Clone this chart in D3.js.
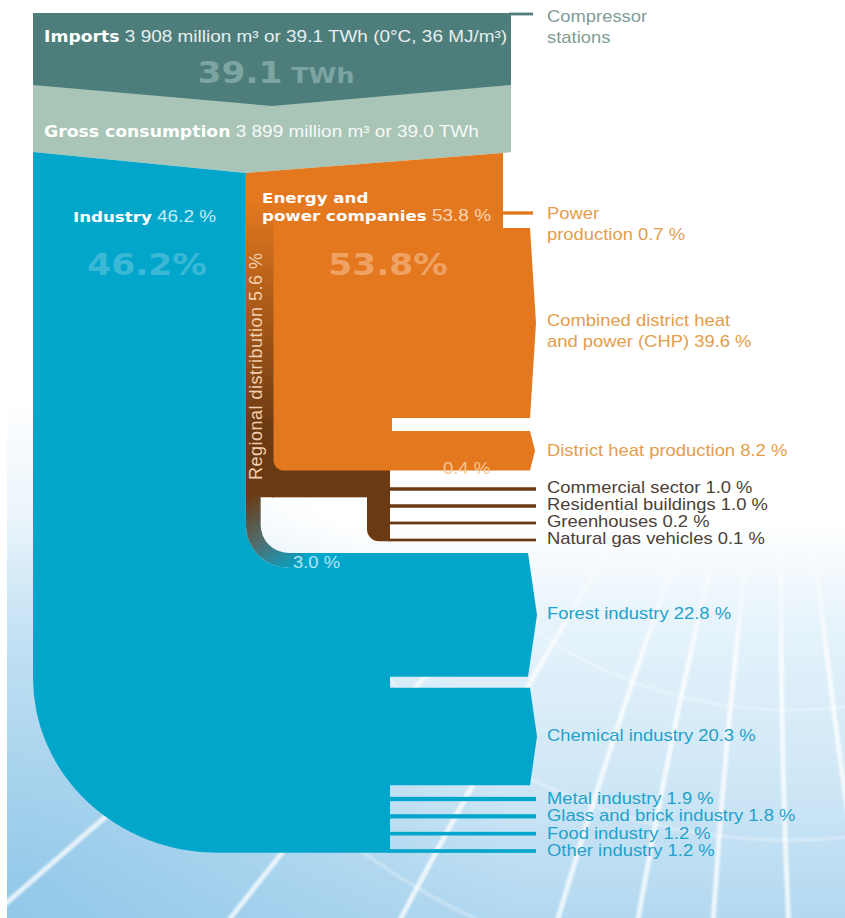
<!DOCTYPE html>
<html><head><meta charset="utf-8">
<script src="https://cdn.jsdelivr.net/npm/d3@7"></script>
<style>body{margin:0;background:#fff}svg{display:block}text{white-space:pre}</style>
</head><body>
<svg id="c" width="845" height="918"></svg>
<script>
// ---------------- DATA ----------------
const importsLabel = ["Imports", " 3 908 million m³ or 39.1 TWh (0°C, 36 MJ/m³)"];
const importsTWh = 39.1;
const grossLabel = ["Gross consumption", " 3 899 million m³ or 39.0 TWh"];
const grossTWh = 39.0;
const compressorLabel = ["Compressor", "stations"];
const mainCategories = ["Industry", "Energy and power companies"];
const mainShares = [46.2, 53.8];
const regionalLabel = "Regional distribution";
const regionalShare = 5.6;
const regionalToIndustry = 3.0;
const regionalOther = 0.4;
const energyOutputs = ["Power production", "Combined district heat and power (CHP)", "District heat production"];
const energyLabelLines = [["Power", "production"], ["Combined district heat", "and power (CHP)"], ["District heat production"]];
const energyValues = [0.7, 39.6, 8.2];
const regionalOutputs = ["Commercial sector", "Residential buildings", "Greenhouses", "Natural gas vehicles"];
const regionalValues = [1.0, 1.0, 0.2, 0.1];
const industryOutputs = ["Forest industry", "Chemical industry", "Metal industry", "Glass and brick industry", "Food industry", "Other industry"];
const industryValues = [22.8, 20.3, 1.9, 1.8, 1.2, 1.2];

// ---------------- SETUP ----------------
const C = {
  imports: "#4e7e7c", gross: "#a9c5b7", blue: "#02a6ca", orange: "#e3781f", brown: "#6b3a12",
  bigTeal: "#7ca5a2", bigBlue: "#3cb8d7", bigOrange: "#efa264",
  labComp: "#7f9c99", labEnergy: "#e39d4c", labReg: "#4b3f36", labInd: "#1ea2cb"
};
const fmt = d3.format(".1f");
const svg = d3.select("#c");
const defs = svg.append("defs");

const directShares = [mainShares[0] - regionalToIndustry, regionalShare, mainShares[1] - regionalShare];
const X = d3.scaleLinear().domain([0, d3.sum(directShares)]).range([33, 511]);
const H = d3.scaleLinear().domain([0, 1]).range([0, 4.8]);
const LW = d3.scaleLinear().domain([0, 2]).range([2.6, 4.4]);

// layout constants
const yTop = 13, yImpBot = 85, yImpApex = 106;
const xInd = X(directShares[0]);
const xReg = X(directShares[0] + directShares[1]);
const xEnd = X(d3.sum(directShares));
const xE = xEnd - 8;
const yBlueTL = 152, ySplit = 173, yOrTR = 153;
const topAt = x => ySplit + (x - xInd) * (yOrTR - ySplit) / (xE - xInd);
const xOut = 530, xTip = 536, xSlot = 390, xLineEnd = 536, xLab = 547;
const powerY = 213;
const chpTop = 228, chpBot = chpTop + H(energyValues[1]);
const dhTop = chpBot + 13, dhBot = dhTop + H(energyValues[2]);
const bandBot = dhBot + H(regionalShare);
const regY = d3.scalePoint().domain(regionalOutputs).range([489, 540]);
const blueTop = 553;
const forestBot = blueTop + H(regionalToIndustry + industryValues[0]);
const chemTop = forestBot + 11, chemBot = chemTop + H(industryValues[1]);
const smallInd = industryOutputs.slice(2), smallIndV = industryValues.slice(2);
const indY = d3.scalePoint().domain(smallInd).range([799, 851]);
const blueBot = indY(smallInd[smallInd.length - 1]) + LW(smallIndV[smallIndV.length - 1]) / 2;

// ---------------- BACKGROUND ----------------
const bg = defs.append("linearGradient").attr("id", "bg").attr("gradientUnits", "userSpaceOnUse")
  .attr("x1", 0).attr("y1", 0).attr("x2", 0).attr("y2", 918);
[[0, "#ffffff"], [0.57, "#ffffff"], [0.68, "#e6f3fb"], [0.85, "#cfe7f6"], [1, "#b2d8f0"]]
  .forEach(s => bg.append("stop").attr("offset", s[0]).attr("stop-color", s[1]));
const bgL = defs.append("radialGradient").attr("id", "bgL").attr("gradientUnits", "userSpaceOnUse")
  .attr("cx", 0).attr("cy", 918).attr("r", 520);
bgL.append("stop").attr("offset", 0).attr("stop-color", "#86c2e6").attr("stop-opacity", 0.75);
bgL.append("stop").attr("offset", 1).attr("stop-color", "#86c2e6").attr("stop-opacity", 0);
const fadeG = defs.append("linearGradient").attr("id", "fadeG").attr("gradientUnits", "userSpaceOnUse")
  .attr("x1", 0).attr("y1", 520).attr("x2", 0).attr("y2", 660);
fadeG.append("stop").attr("offset", 0).attr("stop-color", "#000");
fadeG.append("stop").attr("offset", 1).attr("stop-color", "#fff");
defs.append("mask").attr("id", "fade").append("rect").attr("x", 0).attr("y", 0)
  .attr("width", 845).attr("height", 918).attr("fill", "url(#fadeG)");
defs.append("filter").attr("id", "soft").append("feGaussianBlur").attr("stdDeviation", 1.3);

svg.append("rect").attr("x", 7).attr("y", 0).attr("width", 838).attr("height", 918).attr("fill", "url(#bg)");
svg.append("rect").attr("x", 7).attr("y", 400).attr("width", 838).attr("height", 518).attr("fill", "url(#bgL)");

const deco = svg.append("g").attr("mask", "url(#fade)").attr("filter", "url(#soft)")
  .attr("fill", "none").attr("stroke", "#ffffff");
const P = [790, 260];
[-8, 233, 403, 560, 640, 715, 790, 865].forEach(bx => {
  const ex = bx + (bx - P[0]) * 0.05, ey = 918 + (918 - P[1]) * 0.05;
  const mx = (P[0] + ex) / 2 - 18, my = (P[1] + ey) / 2 - 10;
  deco.append("path").attr("d", `M${P[0]},${P[1]} Q${mx},${my} ${ex},${ey}`)
    .attr("stroke-width", 5).attr("stroke-opacity", 0.75);
});
[340, 450, 580, 730].forEach(rr => {
  deco.append("circle").attr("cx", P[0]).attr("cy", P[1]).attr("r", rr)
    .attr("stroke-width", 3).attr("stroke-opacity", 0.35);
});

// ---------------- FLOWS ----------------
const line = d3.line();
// gross consumption
svg.append("path").attr("fill", C.gross)
  .attr("d", line([[X(0), yImpBot - 1], [xEnd, yImpBot - 1], [xEnd, yOrTR - 1], [xE, yOrTR], [xInd, ySplit], [X(0), yBlueTL]]) + "Z");
// imports
svg.append("path").attr("fill", C.imports)
  .attr("d", line([[X(0), yTop], [xEnd, yTop], [xEnd, yImpBot], [X(d3.sum(directShares) / 2), yImpApex], [X(0), yImpBot]]) + "Z");
// compressor stations
const compShare = (importsTWh - grossTWh) / importsTWh * 100;
svg.append("rect").attr("x", xEnd - 2).attr("y", yTop - LW(compShare) / 2 + 1).attr("width", 533 - xEnd + 2)
  .attr("height", LW(compShare)).attr("fill", C.imports);

// industry (blue)
const w3 = X(regionalToIndustry) - X(0), r3 = 28, R3 = r3 + w3;
const cx3 = xInd + w3 + r3, cy3 = blueTop - r3;
svg.append("path").attr("fill", C.blue).attr("d",
  `M${X(0)},${yBlueTL} L${xInd},${ySplit} L${xInd},${cy3} A${R3},${R3} 0 0 0 ${cx3},${cy3 + R3} L${cx3},${blueTop}` +
  ` L${xOut - 2},${blueTop} L${xTip + 1},${(blueTop + forestBot) / 2} L${xOut - 2},${forestBot} L${xSlot},${forestBot}` +
  ` L${xSlot},${chemTop} L${xOut},${chemTop} L${xTip + 1},${(chemTop + chemBot) / 2} L${xOut},${chemBot} L${xSlot},${chemBot}` +
  ` L${xSlot},${blueBot} L${X(0) + 185},${blueBot} A185,175 0 0 1 ${X(0)},${blueBot - 175} Z`);
// small industry lines
svg.selectAll("rect.ind").data(smallInd).join("rect").attr("class", "ind")
  .attr("x", xSlot - 2).attr("width", xLineEnd - xSlot + 2)
  .attr("y", (d, i) => indY(d) - LW(smallIndV[i]) / 2).attr("height", (d, i) => LW(smallIndV[i]))
  .attr("fill", C.blue);

// regional distribution strip (gradient orange -> brown)
const rg = defs.append("linearGradient").attr("id", "regG").attr("gradientUnits", "userSpaceOnUse")
  .attr("x1", 0).attr("y1", 200).attr("x2", 0).attr("y2", 430);
rg.append("stop").attr("offset", 0).attr("stop-color", C.orange);
rg.append("stop").attr("offset", 1).attr("stop-color", C.brown);
svg.append("path").attr("fill", "url(#regG)")
  .attr("d", line([[xInd, ySplit], [xReg + 1, topAt(xReg + 1)], [xReg + 1, bandBot], [xInd, bandBot]]) + "Z");
// horizontal brown band
svg.append("rect").attr("x", xReg - 2).attr("y", dhBot - 12).attr("width", xSlot - xReg + 2)
  .attr("height", bandBot - dhBot + 12).attr("fill", C.brown);
// brown vertical with rounded corner
const vW = 23, vBot = regY(regionalOutputs[regionalOutputs.length - 1]) + LW(regionalValues[regionalValues.length - 1]) / 2;
svg.append("path").attr("fill", C.brown).attr("d",
  `M${xSlot - vW},${dhBot - 12} L${xSlot},${dhBot - 12} L${xSlot},${vBot} L${xSlot - vW + 12},${vBot} A12,12 0 0 1 ${xSlot - vW},${vBot - 12} Z`);
svg.selectAll("rect.reg").data(regionalOutputs).join("rect").attr("class", "reg")
  .attr("x", xSlot - 2).attr("width", xLineEnd - xSlot + 2)
  .attr("y", (d, i) => regY(d) - LW(regionalValues[i]) / 2).attr("height", (d, i) => LW(regionalValues[i]))
  .attr("fill", C.brown);
// 3.0 % regional -> industry curved strip
const sg = defs.append("linearGradient").attr("id", "stripG").attr("gradientUnits", "userSpaceOnUse")
  .attr("x1", xInd).attr("y1", bandBot).attr("x2", cx3 + 12).attr("y2", blueTop + w3);
[[0, C.brown], [0.5, "#4f6f72"], [1, C.blue]].forEach(s => sg.append("stop").attr("offset", s[0]).attr("stop-color", s[1]));
svg.append("path").attr("fill", "url(#stripG)").attr("d",
  `M${xInd},${bandBot - 2} L${xInd + w3},${bandBot - 2} L${xInd + w3},${cy3} A${r3},${r3} 0 0 0 ${cx3},${blueTop}` +
  ` L${cx3 + 16},${blueTop} L${cx3 + 16},${blueTop + w3} L${cx3},${blueTop + w3} A${R3},${R3} 0 0 1 ${xInd},${cy3} Z`);

// energy and power companies (orange)
svg.append("path").attr("fill", C.orange).attr("d",
  `M${xReg},${topAt(xReg)} L${xE},${yOrTR} L${xE},${chpTop} L${xOut},${chpTop} L${xTip},${(chpTop + chpBot) / 2}` +
  ` L${xOut},${chpBot} L${xSlot + 2},${chpBot} L${xSlot + 2},${dhTop} L${xOut},${dhTop} L${xTip - 1},${(dhTop + dhBot) / 2}` +
  ` L${xOut},${dhBot} L${xReg + 10},${dhBot} A10,10 0 0 1 ${xReg},${dhBot - 10} Z`);
// power production line
svg.append("rect").attr("x", xE - 3).attr("y", powerY - H(energyValues[0]) / 2)
  .attr("width", 533 - xE + 3).attr("height", H(energyValues[0])).attr("fill", C.orange);

// ---------------- TEXT ----------------
const REG = "Liberation Sans, Arial, Helvetica, sans-serif", BOLD = "DejaVu Sans, Verdana, sans-serif";
function label(x, y, parts, anchor = "start", sx = 1.15) {
  const t = svg.append("text").attr("transform", `translate(${x},${y}) scale(${sx},1)`).attr("text-anchor", anchor);
  parts.forEach(p => t.append("tspan").text(p.t)
    .attr("font-family", p.b ? BOLD : REG).attr("font-weight", p.b ? "bold" : "normal")
    .attr("font-size", p.s).attr("fill", p.c).attr("fill-opacity", p.o == null ? 1 : p.o));
  return t;
}
// imports / gross
label(44, 42, [{t: importsLabel[0], b: 1, s: 15, c: "#fff"}, {t: importsLabel[1], s: 16.5, c: "#e6efee"}]);
label(276, 83, [{t: fmt(importsTWh), b: 1, s: 30, c: C.bigTeal}, {t: " TWh", b: 1, s: 22, c: C.bigTeal}], "middle");
label(44, 137, [{t: grossLabel[0], b: 1, s: 15, c: "#fff"}, {t: grossLabel[1], s: 16.5, c: "#f6f9f8"}]);
label(xLab, 22, [{t: compressorLabel[0], s: 16, c: C.labComp}]);
label(xLab, 43, [{t: compressorLabel[1], s: 16, c: C.labComp}]);

// industry / energy
label(73, 222, [{t: mainCategories[0], b: 1, s: 14.5, c: "#fff"}, {t: " " + fmt(mainShares[0]) + " %", s: 16.5, c: "#c4ecf7"}]);
label(147, 275, [{t: fmt(mainShares[0]) + "%", b: 1, s: 30, c: C.bigBlue}], "middle");
label(262, 203, [{t: "Energy and", b: 1, s: 14.5, c: "#fff"}]);
label(262, 221, [{t: "power companies", b: 1, s: 14.5, c: "#fff"}, {t: " " + fmt(mainShares[1]) + " %", s: 16.5, c: "#f8d6b6"}]);
label(388, 275, [{t: fmt(mainShares[1]) + "%", b: 1, s: 30, c: C.bigOrange}], "middle");

// regional distribution (vertical)
svg.append("text").attr("transform", `translate(262,480) rotate(-90)`)
  .attr("font-family", REG).attr("font-size", 18).attr("letter-spacing", 0.5).attr("fill", "#f1cfae")
  .text(regionalLabel + " " + fmt(regionalShare) + " %");
label(443, 474, [{t: fmt(regionalOther) + " %", s: 16, c: "#f8c790"}]);
label(293, 568, [{t: fmt(regionalToIndustry) + " %", s: 16, c: "#b2e6f4"}]);

// energy outputs labels
const energyFirstBase = [powerY + 6, (chpTop + chpBot) / 2 + 3, (dhTop + dhBot) / 2 + 5];
energyLabelLines.forEach((lines, i) => {
  lines.forEach((ln, j) => {
    const txt = j === lines.length - 1 ? ln + " " + fmt(energyValues[i]) + " %" : ln;
    label(xLab, energyFirstBase[i] + j * 21, [{t: txt, s: 16, c: C.labEnergy}]);
  });
});
// regional outputs labels
regionalOutputs.forEach((d, i) => label(xLab, regY(d) + 4, [{t: d + " " + fmt(regionalValues[i]) + " %", s: 16, c: C.labReg}]));
// industry labels
label(xLab, (blueTop + forestBot) / 2 + 4, [{t: industryOutputs[0] + " " + fmt(industryValues[0]) + " %", s: 16, c: C.labInd}]);
label(xLab, (chemTop + chemBot) / 2 + 4, [{t: industryOutputs[1] + " " + fmt(industryValues[1]) + " %", s: 16, c: C.labInd}]);
smallInd.forEach((d, i) => label(xLab, indY(d) + 5, [{t: d + " " + fmt(smallIndV[i]) + " %", s: 16, c: C.labInd}]));
</script>
</body></html>
